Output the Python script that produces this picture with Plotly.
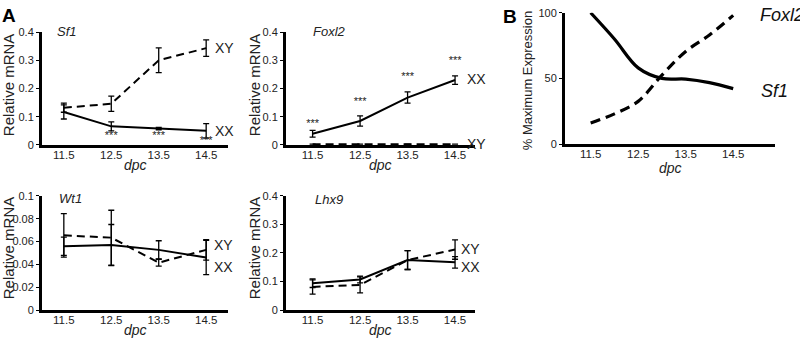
import plotly.graph_objects as go

W, H = 800, 345

# ---------------- data ----------------
dpc = [11.5, 12.5, 13.5, 14.5]
tick_labels_x = ["11.5", "12.5", "13.5", "14.5"]

sf1_xx = [0.117, 0.066, 0.058, 0.050]
sf1_xx_err = [0.025, 0.016, 0.004, 0.026]
sf1_xy = [0.132, 0.146, 0.300, 0.343]
sf1_xy_err = [0.016, 0.027, 0.044, 0.029]

foxl2_xx = [0.040, 0.085, 0.168, 0.230]
foxl2_xx_err = [0.012, 0.018, 0.020, 0.015]
foxl2_xy = [0.003, 0.003, 0.003, 0.003]
foxl2_xy_err = [0.0, 0.0, 0.0, 0.0]

wt1_xx = [0.0558, 0.0569, 0.0527, 0.0460]
wt1_xx_err = [0.008, 0.018, 0.008, 0.015]
wt1_xy = [0.0654, 0.0634, 0.0415, 0.0527]
wt1_xy_err = [0.019, 0.024, 0.003, 0.009]

lhx9_xx = [0.094, 0.107, 0.175, 0.167]
lhx9_xx_err = [0.015, 0.012, 0.033, 0.020]
lhx9_xy = [0.081, 0.088, 0.175, 0.212]
lhx9_xy_err = [0.025, 0.028, 0.033, 0.034]

# Panel B (% maximum expression)
b_dpc = [11.5, 12.0, 12.5, 13.0, 13.5, 14.0, 14.5]
b_sf1 = [100, 80, 58, 50, 49.5, 46.8, 42.2]
b_foxl2 = [16, 23, 32.5, 52.5, 70.5, 83, 98]

# significance marks
sf1_star_x = [12.5, 13.5, 14.5]
sf1_star_y = [0.030, 0.030, 0.012]
foxl2_star_y = [0.074, 0.153, 0.239, 0.298]

yticks_04 = [0, 0.1, 0.2, 0.3, 0.4]
yticks_04_txt = ["0", "0.1", "0.2", "0.3", "0.4"]
yticks_01 = [0, 0.02, 0.04, 0.06, 0.08, 0.1]
yticks_01_txt = ["0", "0.02", "0.04", "0.06", "0.08", "0.1"]
yticks_b = [0, 50, 100]
yticks_b_txt = ["0", "50", "100"]

# ---------------- style ----------------
FONT = "Liberation Sans, Arial, sans-serif"
DASH = "8px,5px"


def px(x):
    return x / W


def py(y):
    return 1 - y / H


fig = go.Figure()


def add_series(xa, ya, x, y, err, dash):
    fig.add_trace(go.Scatter(
        x=x, y=y, xaxis=xa, yaxis=ya, mode="lines",
        line=dict(color="black", width=2, dash=dash),
        error_y=dict(type="data", array=err, visible=True, color="black",
                     thickness=1.3, width=3),
        showlegend=False, hoverinfo="skip"))


add_series("x", "y", dpc, sf1_xy, sf1_xy_err, DASH)
add_series("x", "y", dpc, sf1_xx, sf1_xx_err, "solid")
add_series("x2", "y2", dpc, foxl2_xy, foxl2_xy_err, DASH)
add_series("x2", "y2", dpc, foxl2_xx, foxl2_xx_err, "solid")
add_series("x4", "y4", dpc, wt1_xy, wt1_xy_err, DASH)
add_series("x4", "y4", dpc, wt1_xx, wt1_xx_err, "solid")
add_series("x5", "y5", dpc, lhx9_xy, lhx9_xy_err, DASH)
add_series("x5", "y5", dpc, lhx9_xx, lhx9_xx_err, "solid")

fig.add_trace(go.Scatter(x=b_dpc, y=b_sf1, xaxis="x3", yaxis="y3", mode="lines",
                         line=dict(color="black", width=3.2, shape="spline"),
                         showlegend=False, hoverinfo="skip"))
fig.add_trace(go.Scatter(x=b_dpc, y=b_foxl2, xaxis="x3", yaxis="y3", mode="lines",
                         line=dict(color="black", width=3.2, shape="spline", dash="10px,6px"),
                         showlegend=False, hoverinfo="skip"))

fig.add_trace(go.Scatter(x=sf1_star_x, y=sf1_star_y, xaxis="x", yaxis="y", mode="text",
                         text=["***"] * 3, textfont=dict(family=FONT, size=11, color="#222"),
                         showlegend=False, hoverinfo="skip", cliponaxis=False))
fig.add_trace(go.Scatter(x=dpc, y=foxl2_star_y, xaxis="x2", yaxis="y2", mode="text",
                         text=["***"] * 4, textfont=dict(family=FONT, size=11, color="#222"),
                         showlegend=False, hoverinfo="skip", cliponaxis=False))

# ---------------- axes ----------------
dom_x_left = [px(42), px(228)]
dom_x_mid = [px(286), px(475)]
dom_x_b = [px(565), px(775)]
dom_y_top = [py(144), py(27)]
dom_y_b = [py(143), py(7)]
dom_y_bot = [py(315), py(196.7)]


def xax(dom, rng, anchor):
    return dict(domain=dom, range=rng, anchor=anchor, showgrid=False, zeroline=False,
                showline=True, linecolor="black", linewidth=3, ticks="",
                ticklabelstandoff=-3,
                tickvals=dpc, ticktext=tick_labels_x,
                tickfont=dict(family=FONT, size=11.5, color="#222"))


def yax(dom, rng, anchor, tv, tt):
    return dict(domain=dom, range=rng, anchor=anchor, showgrid=False, zeroline=False,
                showline=True, linecolor="black", linewidth=3, ticks="outside",
                ticklen=3, tickwidth=1, tickcolor="black",
                tickvals=tv, ticktext=tt,
                tickfont=dict(family=FONT, size=11, color="#222"))


fig.update_layout(
    width=W, height=H, margin=dict(l=0, r=0, t=0, b=0),
    paper_bgcolor="white", plot_bgcolor="white",
    xaxis=xax(dom_x_left, [11.04, 14.96], "y"),
    yaxis=yax(dom_y_top, [0, 0.4], "x", yticks_04, yticks_04_txt),
    xaxis2=xax(dom_x_mid, [10.94, 14.92], "y2"),
    yaxis2=yax(dom_y_top, [0, 0.4], "x2", yticks_04, yticks_04_txt),
    xaxis3=xax(dom_x_b, [10.96, 15.38], "y3"),
    yaxis3=yax(dom_y_b, [0, 100], "x3", yticks_b, yticks_b_txt),
    xaxis4=xax(dom_x_left, [11.04, 14.96], "y4"),
    yaxis4=yax(dom_y_bot, [0, 0.1], "x4", yticks_01, yticks_01_txt),
    xaxis5=xax(dom_x_mid, [10.94, 14.92], "y5"),
    yaxis5=yax(dom_y_bot, [0, 0.4], "x5", yticks_04, yticks_04_txt),
)

ann = []


def text(x, y, s, size, xanchor="center", yanchor="middle", angle=0,
         xref="paper", yref="paper", color="#222"):
    ann.append(dict(x=x, y=y, text=s, xref=xref, yref=yref, showarrow=False,
                    xanchor=xanchor, yanchor=yanchor, textangle=angle,
                    font=dict(family=FONT, size=size, color=color)))


# panel letters
text(px(9), py(10), "<b>A</b>", 19, color="black")
text(px(510), py(11), "<b>B</b>", 19, color="black")

# y-axis titles
for xc, yc in [(8, 82), (254, 82), (8, 251), (254, 251)]:
    text(px(xc), py(yc), "Relative mRNA", 15, angle=-90)
text(px(527), py(78), "% Maximum Expression", 13, angle=-90)

# x-axis titles
for xc, yc in [(135, 165), (380.5, 165), (135, 336), (380.5, 336), (670, 168)]:
    text(px(xc), py(yc), "<i>dpc</i>", 14)

# gene names
for xl, yc, s in [(55, 26, "Sf1"), (311, 26, "Foxl2"), (57, 199, "Wt1"), (313, 200, "Lhx9")]:
    text(px(xl), py(yc), "<i>%s</i>" % s, 13, xanchor="left")

# series labels
text(14.65, 0.345, "XY", 14, xanchor="left", xref="x", yref="y")
text(14.65, 0.050, "XX", 14, xanchor="left", xref="x", yref="y")
text(14.70, 0.232, "XX", 14, xanchor="left", xref="x2", yref="y2")
text(14.70, 0.004, "XY", 14, xanchor="left", xref="x2", yref="y2")
text(14.63, 0.057, "XY", 14, xanchor="left", xref="x4", yref="y4")
text(14.63, 0.038, "XX", 14, xanchor="left", xref="x4", yref="y4")
text(14.58, 0.214, "XY", 14, xanchor="left", xref="x5", yref="y5")
text(14.58, 0.152, "XX", 14, xanchor="left", xref="x5", yref="y5")
text(15.02, 98, "<i>Foxl2</i>", 18, xanchor="left", xref="x3", yref="y3", color="#111")
text(15.04, 40.5, "<i>Sf1</i>", 18, xanchor="left", xref="x3", yref="y3", color="#111")

fig.update_layout(annotations=ann)
fig.write_html("out.html", config={"displayModeBar": False},
               post_script="document.body.style.margin='0';document.body.style.overflow='hidden';")
